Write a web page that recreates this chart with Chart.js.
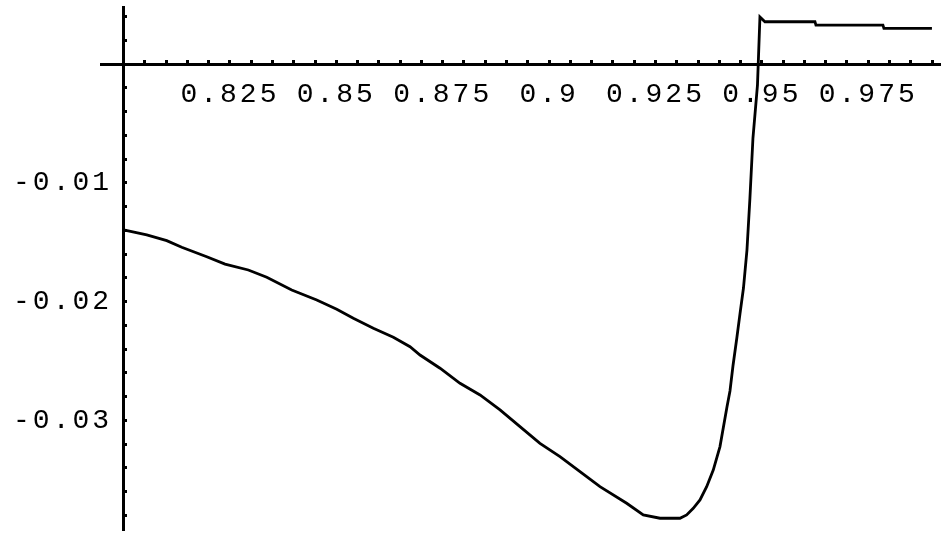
<!DOCTYPE html>
<html>
<head>
    <title>Plot</title>
    <script src="https://cdn.jsdelivr.net/npm/chart.js@4.4.0/dist/chart.umd.min.js"></script>
    <style>
        body {
            margin: 0;
            background: #fff;
        }
        #wrap {
            width: 941px;
            height: 533px;
        }
    </style>
</head>
<body>
    <div id="wrap"><canvas id="plot" width="941" height="533"></canvas></div>

    <script>
        // curve samples
        const xs = [
            0.8, 0.80545, 0.81015, 0.81367, 0.81955, 0.82385, 0.82932, 0.83365, 0.83952, 0.8454,
            0.8501, 0.854, 0.8587, 0.8634, 0.86732, 0.86967, 0.87437, 0.87907, 0.88377, 0.88847,
            0.89316, 0.89786, 0.90256, 0.90726, 0.91196, 0.91823, 0.92213, 0.92606, 0.93076, 0.93233,
            0.93388, 0.93546, 0.93703, 0.93858, 0.94016, 0.9418, 0.94251, 0.94321, 0.94415, 0.94486,
            0.94568, 0.9465, 0.9472, 0.94791, 0.94897, 0.94955, 0.95072, 0.96248, 0.96271, 0.97845,
            0.97869, 0.98997
        ];
        const ys = [
            -0.01397, -0.01439, -0.01487, -0.01543, -0.01622, -0.01684, -0.01734, -0.01795, -0.01902, -0.01987,
            -0.02065, -0.02141, -0.02225, -0.023, -0.0238, -0.0245, -0.02561, -0.02688, -0.02786, -0.02912,
            -0.03053, -0.03193, -0.03306, -0.03432, -0.03558, -0.03698, -0.03796, -0.03824, -0.03824, -0.03796,
            -0.0374, -0.0367, -0.03558, -0.03418, -0.03221, -0.02887, -0.02753, -0.02542, -0.02298, -0.02104,
            -0.01886, -0.01566, -0.01128, -0.00623, -0.00177, 0.00396, 0.00356, 0.00356, 0.00328, 0.00328,
            0.003, 0.003
        ];

        const xTickLabels = ['0.825', '0.85', '0.875', '0.9', '0.925', '0.95', '0.975'];
        const yTickLabels = ['-0.01', '-0.02', '-0.03'];

        // small ticks every 0.005 along x and 0.002 along y
        const xTicks = [];
        for (let k = 161; k <= 198; k++) xTicks.push(k / 200);
        const yTicks = [];
        for (let k = 2; k >= -19; k--) if (k !== 0) yTicks.push(k / 500);

        function labelAt(v, labels) {
            const hit = labels.find(l => Math.abs(Number(l) - v) < 1e-9);
            return hit || '';
        }

        // axes sit inside the plot, so they should not push the plot area inwards
        function noPadding(s) {
            s.paddingTop = 0;
            s.paddingBottom = 0;
            s.paddingLeft = 0;
            s.paddingRight = 0;
        }

        const tickFont = { family: "'Liberation Mono', 'DejaVu Sans Mono', monospace", size: 28 };
        const yMin = -0.03923, yMax = 0.0048;

        const spacing = {
            id: 'spacing',
            beforeDraw(chart) { chart.ctx.letterSpacing = '3px'; },
            afterDraw(chart) { chart.ctx.letterSpacing = '0px'; }
        };

        new Chart(document.getElementById('plot'), {
            type: 'scatter',
            data: {
                datasets: [{
                    data: xs.map((x, i) => ({ x: x, y: ys[i] })),
                    showLine: true,
                    borderColor: '#000',
                    borderWidth: 2.8,
                    pointRadius: 0,
                    tension: 0,
                    yAxisID: 'y'
                }]
            },
            options: {
                responsive: false,
                animation: false,
                layout: { padding: { left: 101, right: 0, top: 7, bottom: 3 } },
                plugins: { legend: { display: false }, tooltip: { enabled: false } },
                scales: {
                    x: {
                        type: 'linear',
                        min: 0.7947,
                        max: 0.9921,
                        position: { y: 0 },
                        border: { display: true, color: '#000', width: 3 },
                        grid: { display: true, drawOnChartArea: false, drawTicks: true, tickLength: -6, tickWidth: 3, tickColor: '#000' },
                        afterBuildTicks: s => { s.ticks = xTicks.map(v => ({ value: v })); },
                        afterFit: noPadding,
                        ticks: {
                            autoSkip: false,
                            maxRotation: 0,
                            padding: 20,
                            color: '#000',
                            font: tickFont,
                            callback: v => labelAt(v, xTickLabels)
                        }
                    },
                    y: {
                        type: 'linear',
                        axis: 'y',
                        min: yMin,
                        max: yMax,
                        position: { x: 0.8 },
                        border: { display: true, color: '#000', width: 3 },
                        grid: { display: true, drawOnChartArea: false, drawTicks: true, tickLength: -5, tickWidth: 3, tickColor: '#000' },
                        afterBuildTicks: s => { s.ticks = yTicks.map(v => ({ value: v })); },
                        afterFit: noPadding,
                        ticks: { display: false }
                    },
                    yl: {
                        type: 'linear',
                        axis: 'y',
                        min: yMin,
                        max: yMax,
                        position: { x: 0.7973 },
                        border: { display: false },
                        grid: { display: false },
                        afterBuildTicks: s => { s.ticks = yTickLabels.map(l => ({ value: Number(l) })); },
                        afterFit: noPadding,
                        ticks: {
                            autoSkip: false,
                            color: '#000',
                            font: tickFont,
                            callback: v => labelAt(v, yTickLabels)
                        }
                    }
                }
            },
            plugins: [spacing]
        });
    </script>
</body>
</html>
